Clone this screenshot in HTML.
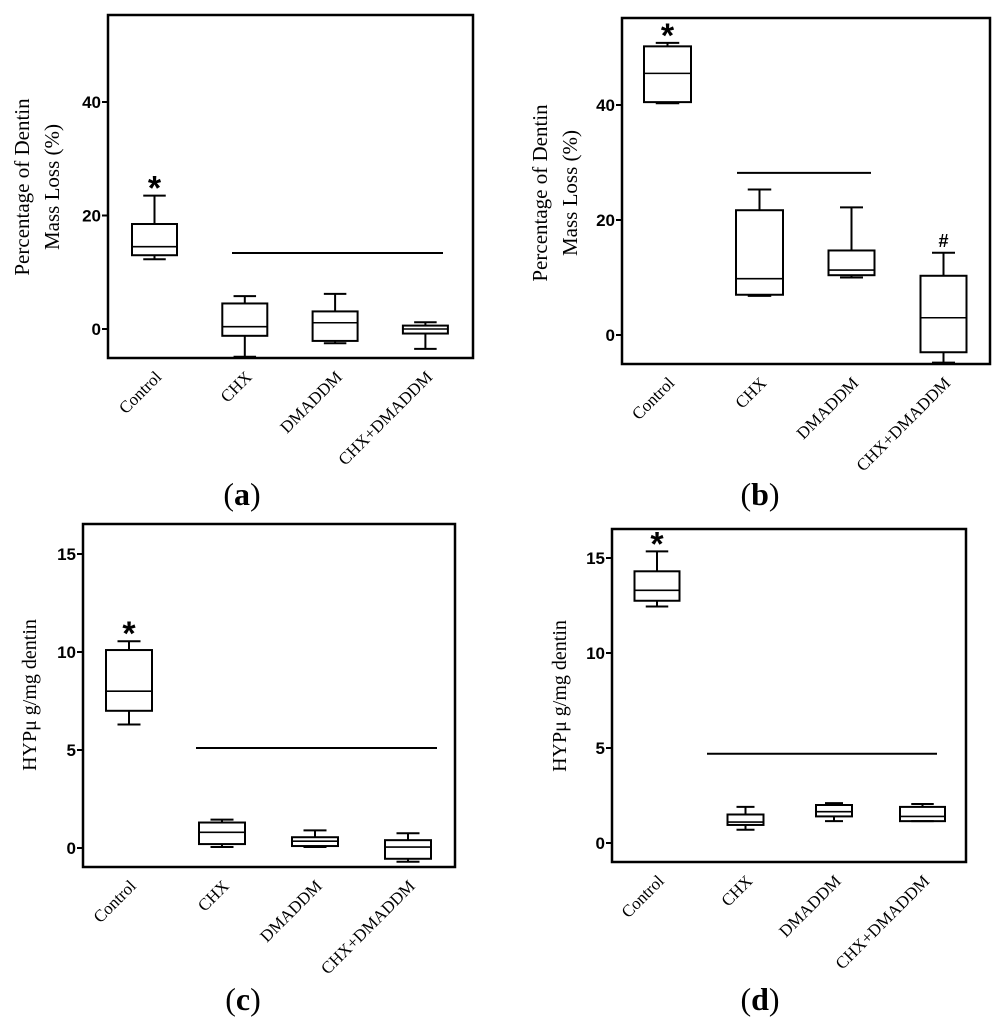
<!DOCTYPE html>
<html><head><meta charset="utf-8"><style>
body{margin:0;background:#fff;width:1005px;height:1024px;overflow:hidden}
svg{display:block}
.tk{font-family:"Liberation Sans",sans-serif;font-weight:bold;font-size:17px}
.cat{font-family:"Liberation Serif",serif;font-size:17px}
.yt{font-family:"Liberation Serif",serif;font-size:21px}
.yt2{font-family:"Liberation Serif",serif;font-size:20px}
.pl{font-family:"Liberation Serif",serif;font-size:32px}
</style></head><body>
<svg id="fig" width="1005" height="1024" viewBox="0 0 1005 1024"></svg>
<script>
const categories=["Control","CHX","DMADDM","CHX+DMADDM"];
// [min,q1,median,q3,max]
const aBoxes=[[12.3,13,14.5,18.5,23.5],[-4.9,-1.2,0.4,4.5,5.8],[-2.5,-2.1,1.1,3.1,6.2],[-3.5,-0.8,0,0.6,1.2]];
const bBoxes=[[40.3,40.5,45.5,50.2,50.8],[6.8,7,9.8,21.7,25.3],[10,10.4,11.3,14.7,22.2],[-4.8,-3,3,10.3,14.3]];
const cBoxes=[[6.3,7,8,10.1,10.55],[0.05,0.2,0.8,1.3,1.45],[0.05,0.1,0.35,0.55,0.9],[-0.7,-0.55,0.05,0.4,0.75]];
const dBoxes=[[12.45,12.75,13.3,14.3,15.35],[0.7,0.95,1.1,1.5,1.9],[1.15,1.4,1.65,2.0,2.1],[1.15,1.15,1.4,1.9,2.05]];
const abTicks=[0,20,40];
const cdTicks=[0,5,10,15];
const aSig=13.4, bSig=28.2, cSig=5.1, dSig=4.7;
const bHashIdx=3;

const NS="http://www.w3.org/2000/svg";
const fig=document.getElementById('fig');
function el(tag,attrs,parent,text){const e=document.createElementNS(NS,tag);for(const k in attrs)e.setAttribute(k,attrs[k]);if(text!==undefined)e.textContent=text;(parent||fig).appendChild(e);return e;}

function panel(o){
  const g=el('g',{});
  
  
  const y=v=>o.y0+(v-o.v0)*(o.y1-o.y0)/(o.v1-o.v0);
  const x=i=>o.cx0+i*o.dx;
  const fr=el('rect',{x:o.fx0,y:o.fy0,width:o.fx1-o.fx0,height:o.fy1-o.fy0,fill:'none',stroke:'#000','stroke-width':2.5},g);
  
  
  o.ticks.forEach(t=>{
    const ty=y(t);
    const tl=el('line',{x1:o.fx0-6,x2:o.fx0,y1:ty,y2:ty,stroke:'#000','stroke-width':2},g);
    
    
    const tt=el('text',{x:o.fx0-7,y:ty+6,'text-anchor':'end',class:'tk'},g,String(t));
    
    
  });
  o.boxes.forEach((b,i)=>{
    const cx=x(i),w=o.bw[i],h=w/2;
    const bg=el('g',{fill:'none',stroke:'#000','stroke-width':2},g);
    
    
    el('line',{x1:cx,x2:cx,y1:y(b[4]),y2:y(b[3])},bg);
    el('line',{x1:cx,x2:cx,y1:y(b[0]),y2:y(b[1])},bg);
    el('line',{x1:cx-h/2,x2:cx+h/2,y1:y(b[4]),y2:y(b[4])},bg);
    el('line',{x1:cx-h/2,x2:cx+h/2,y1:y(b[0]),y2:y(b[0])},bg);
    el('rect',{x:cx-h,y:y(b[3]),width:w,height:y(b[1])-y(b[3])},bg);
    el('line',{x1:cx-h,x2:cx+h,y1:y(b[2]),y2:y(b[2]),'stroke-width':1.6},bg);
    const lt=el('text',{x:0,y:0,'text-anchor':'end',class:'cat',transform:`translate(${cx+8},${o.fy1+20}) rotate(-45)`},g,categories[i]);
    
    
  });
  const st=el('text',{x:x(0),y:y(o.boxes[0][4])+4,'text-anchor':'middle','font-family':'Liberation Sans,sans-serif','font-size':'34px','font-weight':'bold'},g,'*');
  
  
  const sl=el('line',{x1:o.sx0,x2:o.sx1,y1:y(o.sig),y2:y(o.sig),stroke:'#000','stroke-width':2},g);
  
  
  if(o.hash!==undefined){
    const hs=el('text',{x:x(o.hash),y:y(o.boxes[o.hash][4])-6,'text-anchor':'middle','font-family':'Liberation Sans,sans-serif','font-size':'18px','font-weight':'bold'},g,'#');
    
    
  }
  o.ytitle.forEach((t,k)=>{
    const yt=el('text',{x:0,y:0,'text-anchor':'middle',class:o.ycls,transform:`translate(${o.ytx[k]},${o.yty}) rotate(-90)`},g,t);
    
    
  });
  const pl=el('text',{x:o.plx,y:o.ply,'text-anchor':'middle',class:'pl'},g);
  
  
  el('tspan',{},pl,'(');el('tspan',{'font-weight':'bold'},pl,o.id);el('tspan',{},pl,')');
}
panel({id:'a',boxes:aBoxes,ticks:abTicks,sig:aSig,v0:0,v1:40,y0:329,y1:102,fx0:108,fx1:473,fy0:15,fy1:358,cx0:154.5,dx:90.3,bw:[45,45,45,45],sx0:232,sx1:443,ytitle:['Percentage of Dentin','Mass Loss (%)'],ycls:'yt',ytx:[29,59],yty:187,plx:242,ply:505});
panel({id:'b',boxes:bBoxes,ticks:abTicks,sig:bSig,v0:0,v1:40,y0:335,y1:105,fx0:622,fx1:990,fy0:18,fy1:364,cx0:667.5,dx:92,bw:[47,47,46,46],sx0:737,sx1:871,hash:bHashIdx,ytitle:['Percentage of Dentin','Mass Loss (%)'],ycls:'yt',ytx:[547,577],yty:193,plx:760,ply:505});
panel({id:'c',boxes:cBoxes,ticks:cdTicks,sig:cSig,v0:0,v1:15,y0:848,y1:554,fx0:83,fx1:455,fy0:524,fy1:867,cx0:129,dx:93,bw:[46,46,46,46],sx0:196,sx1:437,ytitle:['HYPμ g/mg dentin'],ycls:'yt2',ytx:[36],yty:695,plx:243,ply:1010});
panel({id:'d',boxes:dBoxes,ticks:cdTicks,sig:dSig,v0:0,v1:15,y0:843,y1:558,fx0:612,fx1:966,fy0:529,fy1:862,cx0:657,dx:88.5,bw:[45,36,36,45],sx0:707,sx1:937,ytitle:['HYPμ g/mg dentin'],ycls:'yt2',ytx:[566],yty:696,plx:760,ply:1010});
</script>
</body></html>
